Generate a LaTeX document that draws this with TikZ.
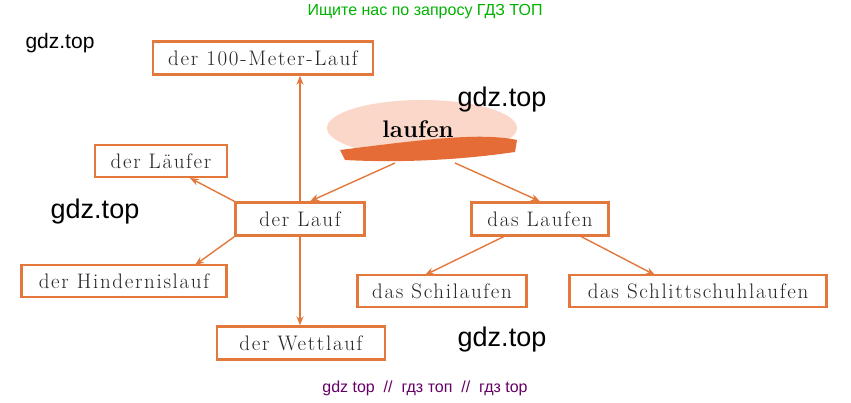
\documentclass[tikz,border=0pt]{standalone}
\usepackage{fontspec}
\newfontfamily\sans{Liberation Sans}
\newfontfamily\lsp[LetterSpace=8]{Latin Modern Roman}
\usetikzlibrary{arrows.meta}
\definecolor{ora}{RGB}{226,120,60}
\definecolor{pinkb}{RGB}{250,215,200}
\tikzset{
 wbox/.style={draw=ora,line width=2.4pt,fill=white,inner sep=0pt,font=\lsp\fontsize{21}{21}\selectfont,text=black!85},
 arr/.style={draw=ora,line width=1.4pt,-{Stealth[length=9pt,width=7pt]}},
 wm/.style={font=\sans\fontsize{27}{27}\selectfont}
}
\begin{document}
\begin{tikzpicture}[x=1pt,y=-1pt]
\useasboundingbox (0,0) rectangle (851,403);
\node[font=\sans\fontsize{16}{16}\selectfont,text=green!70!black] (t1) at (425,12) {Ищите нас по запросу ГДЗ ТОП};
\node[font=\sans\fontsize{16}{16}\selectfont,text=violet!80!black] (t2) at (425,388) {gdz top \ // \ гдз топ \ // \ гдз top};
% blob
\fill[pinkb] (422,128) ellipse (95 and 28);
\fill[ora!90!red] (340,150) .. controls (420,140) and (480,132) .. (517,140) -- (515,152) .. controls (460,160) and (400,163) .. (345,160) -- cycle;
\node[font=\bfseries\fontsize{24}{24}\selectfont] (lf) at (418,129) {laufen};
\coordinate (bl) at (395,163);
\coordinate (br) at (455,163);
\node[wbox,minimum width=220,minimum height=33] (m100) at (263,58) {der 100-Meter-Lauf};
\node[wbox,minimum width=132,minimum height=32] (lae) at (161,161) {der Läufer};
\node[wbox,minimum width=129,minimum height=33] (lauf) at (300,219) {der Lauf};
\node[wbox,minimum width=205,minimum height=32] (hin) at (124,281) {der Hindernislauf};
\node[wbox,minimum width=168,minimum height=33] (wett) at (301,343) {der Wettlauf};
\node[wbox,minimum width=137,minimum height=33] (dl) at (540,219) {das Laufen};
\node[wbox,minimum width=169,minimum height=32] (schi) at (442,291) {das Schilaufen};
\node[wbox,minimum width=257,minimum height=32] (schl) at (698,291) {das Schlittschuhlaufen};
\draw[arr] (bl) -- (lauf.north -| 310,0);
\draw[arr] (br) -- (dl.north);
\draw[arr] (lauf.north) -- (m100.south -| lauf.north);
\draw[arr] (lauf.south) -- (wett.north -| lauf.south);
\draw[arr] (lauf.north west) -- (190,178);
\draw[arr] (lauf.south west) -- (195,265);
\draw[arr] (505,236) -- (425,275);
\draw[arr] (580,236) -- (655,275);
\node[wm,font=\sans\fontsize{21}{21}\selectfont] (w1) at (60,43) {gdz.top};
\node[wm] (w2) at (502,100) {gdz.top};
\node[wm] (w3) at (95,212) {gdz.top};
\node[wm] (w4) at (502,340) {gdz.top};
\end{tikzpicture}
\end{document}
